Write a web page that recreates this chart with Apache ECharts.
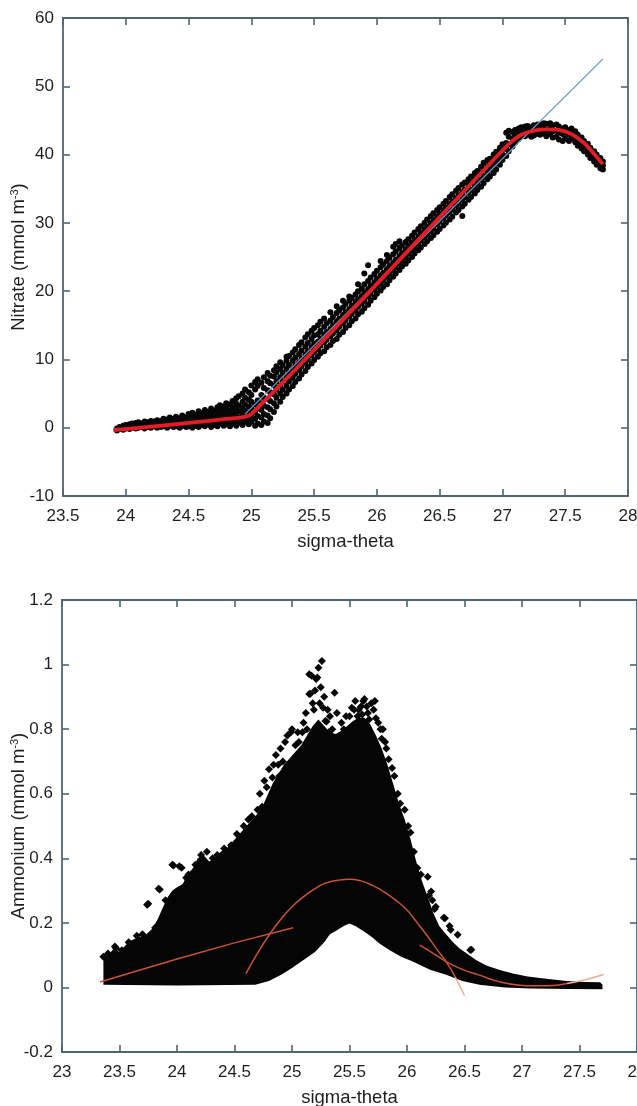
<!DOCTYPE html>
<html>
<head>
<meta charset="utf-8">
<script src="https://cdn.jsdelivr.net/npm/echarts@6/dist/echarts.min.js"></script>
<style>
  html, body { margin: 0; padding: 0; background: #ffffff; overflow: hidden; }
  #chart { width: 637px; height: 1106px; }
</style>
</head>
<body>
<div id="chart"></div>
<script>
// ---------- Nitrate vs sigma-theta (upper panel) ----------
// each row: [sigma-theta, nitrate observations at that density ...]
const nitrateRows = [
  [23.93, -0.4, -0.1], [23.95, -0.2, 0.1], [23.98, -0.3, 0.0, 0.3], [24.00, -0.1, 0.2, 0.4],
  [24.03, -0.2, 0.1, 0.5], [24.05, 0.0, 0.3, 0.6], [24.08, -0.1, 0.2, 0.7], [24.10, 0.0, 0.4, 0.8],
  [24.13, 0.1, 0.3, 0.6], [24.15, -0.1, 0.5, 0.9], [24.18, 0.1, 0.4, 0.8], [24.20, 0.0, 0.3, 0.7, 1.0],
  [24.23, 0.2, 0.5, 0.9], [24.25, 0.0, 0.4, 0.8, 1.1], [24.28, 0.1, 0.6, 1.0], [24.30, 0.2, 0.5, 0.9, 1.3],
  [24.33, 0.0, 0.4, 0.8, 1.2], [24.35, 0.3, 0.7, 1.1, 1.5], [24.38, 0.1, 0.5, 0.9, 1.3], [24.40, 0.2, 0.6, 1.0, 1.6],
  [24.43, 0.0, 0.4, 0.9, 1.4], [24.45, 0.3, 0.7, 1.2, 1.8], [24.48, 0.1, 0.6, 1.1, 1.5], [24.50, 0.2, 0.8, 1.3, 2.0],
  [24.53, 0.0, 0.5, 1.0, 1.6, 2.2], [24.55, 0.3, 0.8, 1.4, 1.9], [24.58, 0.1, 0.6, 1.2, 1.8, 2.4], [24.60, 0.4, 0.9, 1.5, 2.1],
  [24.63, 0.2, 0.7, 1.3, 1.9, 2.6], [24.65, 0.5, 1.0, 1.6, 2.3], [24.68, 0.1, 0.8, 1.4, 2.0, 2.8], [24.70, 0.4, 1.1, 1.7, 2.5],
  [24.73, 0.2, 0.9, 1.5, 2.2, 3.0], [24.75, 0.6, 1.2, 1.9, 2.7, 3.3], [24.78, 0.3, 1.0, 1.6, 2.4, 3.1], [24.80, 0.5, 1.3, 2.0, 2.8, 3.6],
  [24.83, 0.2, 0.9, 1.7, 2.5, 3.4], [24.85, 0.6, 1.4, 2.2, 3.0, 3.9], [24.88, 0.3, 1.1, 1.9, 2.7, 3.5, 4.3], [24.90, 0.7, 1.5, 2.4, 3.2, 4.6],
  [24.93, 0.4, 1.2, 2.0, 2.9, 3.8, 5.0], [24.95, 0.8, 1.6, 2.5, 3.4, 4.4, 5.6], [24.98, 0.5, 1.3, 2.2, 3.1, 4.1, 5.2], [25.00, 0.9, 1.8, 2.8, 3.8, 4.8, 6.2],
  [25.03, 0.3, 1.3, 2.3, 3.4, 5.6, 6.7], [25.05, 0.6, 1.7, 2.8, 4.0, 6.1, 7.1], [25.08, 0.4, 1.5, 2.6, 3.6, 4.8, 6.6], [25.10, 0.9, 2.0, 3.2, 4.4, 5.8, 7.4],
  [25.13, 0.7, 1.8, 3.0, 4.2, 5.5, 6.8, 8.0], [25.15, 1.4, 2.7, 3.9, 5.2, 6.5, 7.6], [25.18, 2.3, 3.6, 4.9, 6.2, 7.5, 8.4], [25.20, 3.1, 4.4, 5.6, 6.8, 8.1, 9.0],
  [25.23, 3.8, 5.0, 6.2, 7.4, 8.6, 9.6], [25.25, 4.5, 5.6, 6.8, 8.0, 9.2], [25.28, 5.0, 6.2, 7.4, 8.6, 9.8, 10.4], [25.30, 5.6, 6.8, 8.0, 9.2, 10.5],
  [25.33, 6.1, 7.3, 8.5, 9.8, 11.0], [25.35, 6.7, 7.9, 9.1, 10.3, 11.5], [25.38, 7.2, 8.4, 9.6, 10.8, 12.1], [25.40, 7.8, 9.0, 10.1, 11.3, 12.5],
  [25.43, 8.3, 9.5, 10.7, 11.9, 13.2], [25.45, 8.9, 10.0, 11.2, 12.4, 13.7], [25.48, 9.4, 10.6, 11.8, 13.0, 14.2], [25.50, 9.9, 11.1, 12.3, 13.5, 14.6],
  [25.53, 10.4, 11.5, 12.6, 13.7, 15.0], [25.55, 10.9, 12.0, 13.0, 14.2, 15.5], [25.58, 11.2, 12.5, 13.6, 14.8, 16.0], [25.60, 11.8, 12.9, 14.0, 15.3],
  [25.63, 12.1, 13.4, 14.5, 15.7, 16.9], [25.65, 12.7, 13.8, 15.0, 16.2], [25.68, 13.0, 14.3, 15.5, 16.8, 17.8], [25.70, 13.6, 14.8, 16.0, 17.2],
  [25.73, 14.0, 15.3, 16.5, 17.6, 18.6], [25.75, 14.6, 15.7, 16.9, 18.1], [25.78, 15.0, 16.3, 17.4, 18.6, 19.2], [25.80, 15.6, 16.7, 17.9, 19.0],
  [25.83, 16.0, 17.2, 18.4, 19.5], [25.85, 16.6, 17.7, 18.8, 20.0, 21.0], [25.88, 17.0, 18.2, 19.3, 20.4], [25.90, 17.5, 18.6, 19.8, 21.0, 22.6],
  [25.93, 18.0, 19.2, 20.3, 21.5, 23.8], [25.95, 18.6, 19.6, 20.8, 22.0], [25.98, 19.1, 20.2, 21.3, 22.5], [26.00, 19.6, 20.6, 21.8, 23.0],
  [26.03, 20.1, 21.1, 22.3, 23.5, 24.4], [26.05, 20.6, 21.6, 22.7, 23.9], [26.08, 21.0, 22.1, 23.2, 24.4, 25.3], [26.10, 21.6, 22.6, 23.7, 24.9],
  [26.13, 22.1, 23.1, 24.2, 25.4, 26.5], [26.15, 22.6, 23.5, 24.6, 25.8, 26.9], [26.18, 23.1, 24.1, 25.1, 26.3, 27.3], [26.20, 23.6, 24.5, 25.6, 26.7],
  [26.23, 24.0, 25.0, 26.1, 27.2], [26.25, 24.5, 25.5, 26.6, 27.6], [26.28, 25.0, 26.0, 27.1, 28.1], [26.30, 25.5, 26.4, 27.5, 28.6],
  [26.33, 26.0, 26.9, 28.0, 29.1], [26.35, 26.4, 27.4, 28.5, 29.5], [26.38, 26.9, 27.9, 29.0, 30.0], [26.40, 27.3, 28.3, 29.4, 30.5],
  [26.43, 27.8, 28.8, 29.9, 31.0], [26.45, 28.2, 29.2, 30.4, 31.4], [26.48, 28.7, 29.8, 30.9, 31.9], [26.50, 29.1, 30.2, 31.3, 32.3],
  [26.53, 29.6, 30.7, 31.8, 32.8], [26.55, 30.0, 31.1, 32.2, 33.2], [26.58, 30.5, 31.6, 32.7, 33.8], [26.60, 30.9, 32.0, 33.1, 34.2],
  [26.63, 31.5, 32.5, 33.6, 34.7], [26.65, 31.9, 32.9, 34.0, 35.1], [26.68, 31.0, 32.4, 33.4, 34.5, 35.6], [26.70, 32.8, 33.8, 34.9, 35.9],
  [26.73, 33.4, 34.4, 35.5, 36.4], [26.75, 33.8, 34.8, 35.9, 36.8], [26.78, 34.3, 35.3, 36.4, 37.3], [26.80, 34.8, 35.8, 36.8, 37.6],
  [26.83, 35.3, 36.3, 37.3, 38.2], [26.85, 35.8, 36.8, 37.8, 38.8], [26.88, 36.4, 37.3, 38.3, 39.2], [26.90, 36.8, 37.8, 38.7, 39.4],
  [26.93, 37.3, 38.3, 39.2, 40.0], [26.95, 37.8, 38.8, 39.6, 40.4], [26.98, 38.5, 39.4, 40.2, 41.0], [27.00, 39.2, 40.0, 40.8, 41.5],
  [27.03, 39.8, 40.8, 41.7, 43.2], [27.05, 40.5, 41.5, 42.6, 43.5], [27.08, 41.2, 42.3, 43.3], [27.10, 41.8, 42.8, 43.6],
  [27.13, 42.3, 43.2, 43.8], [27.15, 42.6, 43.4, 44.0], [27.18, 42.7, 43.5, 44.1], [27.20, 42.9, 43.6, 44.2],
  [27.23, 42.6, 43.3, 44.0], [27.25, 42.8, 43.6, 44.3], [27.28, 43.0, 43.8, 44.4], [27.30, 42.9, 43.7, 44.4],
  [27.33, 43.1, 43.9, 44.6], [27.35, 42.7, 43.6, 44.5], [27.38, 43.0, 43.8, 44.6], [27.40, 42.5, 43.4, 44.3],
  [27.43, 42.6, 43.5, 44.4], [27.45, 42.2, 43.2, 44.1], [27.48, 42.0, 43.0, 43.8], [27.50, 42.4, 43.3, 44.0],
  [27.53, 42.0, 42.9, 43.6], [27.55, 42.3, 43.1, 43.8], [27.58, 41.8, 42.6, 43.4], [27.60, 41.3, 42.1, 42.9],
  [27.63, 40.9, 41.7, 42.5], [27.65, 40.5, 41.3, 42.0], [27.68, 40.0, 40.8, 41.6], [27.70, 39.5, 40.3, 41.0],
  [27.73, 39.0, 39.8, 40.5], [27.75, 38.5, 39.3, 40.0], [27.78, 38.0, 38.8, 39.5], [27.80, 37.8, 38.4, 39.0]
];
// linear regression line through the nitracline
const nitrateFitLinear = [[24.95, 2.0], [27.80, 54.0]];
// piecewise fit used by the model
const nitrateFitPiecewise = [
  [23.90, -0.35], [24.20, 0.15], [24.50, 0.70], [24.80, 1.30], [25.00, 2.00],
  [27.00, 40.6], [27.08, 42.0], [27.15, 42.9], [27.25, 43.5], [27.35, 43.7],
  [27.45, 43.6], [27.55, 43.0], [27.65, 41.7], [27.72, 40.3], [27.80, 38.6]
];

// ---------- Ammonium vs sigma-theta (lower panel) ----------
// outline of the densely packed observations (upper edge, left to right)
const ammoniumUpper = [
  [23.36, 0.010], [23.36, 0.090], [23.40, 0.100], [23.45, 0.120], [23.50, 0.110], [23.55, 0.130],
  [23.60, 0.145], [23.66, 0.155], [23.72, 0.160], [23.78, 0.180], [23.83, 0.210], [23.88, 0.250],
  [23.92, 0.280], [23.96, 0.300], [24.00, 0.310], [24.05, 0.320], [24.09, 0.350], [24.14, 0.370],
  [24.18, 0.400], [24.23, 0.410], [24.28, 0.390], [24.33, 0.400], [24.38, 0.420], [24.43, 0.430],
  [24.48, 0.450], [24.53, 0.470], [24.58, 0.490], [24.63, 0.510], [24.68, 0.530], [24.73, 0.550],
  [24.78, 0.590], [24.83, 0.630], [24.88, 0.660], [24.93, 0.690], [24.98, 0.710], [25.03, 0.730],
  [25.08, 0.750], [25.13, 0.780], [25.18, 0.810], [25.23, 0.830], [25.28, 0.810], [25.33, 0.790],
  [25.38, 0.785], [25.43, 0.795], [25.48, 0.810], [25.53, 0.825], [25.58, 0.835], [25.63, 0.835],
  [25.68, 0.815], [25.73, 0.780], [25.78, 0.740], [25.83, 0.690], [25.88, 0.630], [25.93, 0.570],
  [25.98, 0.520], [26.03, 0.460], [26.08, 0.390], [26.13, 0.330], [26.18, 0.280], [26.23, 0.230],
  [26.28, 0.190], [26.34, 0.165], [26.40, 0.140], [26.46, 0.120], [26.52, 0.105], [26.60, 0.085],
  [26.69, 0.068], [26.80, 0.055], [26.92, 0.043], [27.05, 0.034], [27.21, 0.027], [27.39, 0.020],
  [27.55, 0.017], [27.68, 0.016], [27.70, 0.008]
];
// lower edge of the same cloud, left to right
const ammoniumLower = [
  [23.36, 0.008], [24.00, 0.006], [24.68, 0.008], [24.80, 0.020], [24.91, 0.040], [25.00, 0.060],
  [25.10, 0.085], [25.20, 0.110], [25.28, 0.140], [25.33, 0.165], [25.38, 0.175], [25.45, 0.190],
  [25.50, 0.198], [25.55, 0.190], [25.62, 0.175], [25.70, 0.155], [25.76, 0.136], [25.85, 0.115],
  [25.95, 0.095], [26.05, 0.080], [26.20, 0.055], [26.34, 0.039], [26.48, 0.020], [26.63, 0.008],
  [26.85, 0.000], [27.07, -0.003], [27.40, -0.005], [27.70, -0.006]
];
// sparse observations along the ragged top of the cloud
const ammoniumDots = [
  [23.36, 0.095], [23.40, 0.105], [23.46, 0.127], [23.47, 0.121], [23.52, 0.115], [23.58, 0.140],
  [23.65, 0.160], [23.70, 0.165], [23.74, 0.256], [23.75, 0.259], [23.81, 0.185], [23.84, 0.306],
  [23.85, 0.303], [23.90, 0.270], [23.96, 0.380], [23.97, 0.378], [24.02, 0.375], [24.04, 0.371],
  [24.08, 0.340], [24.10, 0.350], [24.16, 0.380], [24.21, 0.410], [24.26, 0.420], [24.31, 0.400],
  [24.35, 0.410], [24.41, 0.430], [24.47, 0.440], [24.52, 0.475], [24.58, 0.500], [24.62, 0.520],
  [24.65, 0.530], [24.70, 0.550], [24.72, 0.600], [24.74, 0.560], [24.76, 0.640], [24.78, 0.620],
  [24.80, 0.676], [24.83, 0.650], [24.84, 0.690], [24.86, 0.720], [24.88, 0.690], [24.89, 0.655],
  [24.90, 0.740], [24.92, 0.700], [24.94, 0.760], [24.96, 0.780], [24.99, 0.790], [25.00, 0.800],
  [25.03, 0.750], [25.05, 0.790], [25.06, 0.760], [25.09, 0.790], [25.10, 0.820], [25.12, 0.850],
  [25.13, 0.800], [25.15, 0.970], [25.15, 0.909], [25.16, 0.910], [25.17, 0.965], [25.18, 0.880],
  [25.19, 0.860], [25.20, 0.920], [25.21, 0.955], [25.22, 0.960], [25.23, 0.990], [25.24, 0.880],
  [25.25, 0.930], [25.26, 1.011], [25.27, 0.866], [25.28, 0.900], [25.29, 0.825], [25.30, 0.824],
  [25.31, 0.860], [25.32, 0.790], [25.33, 0.840], [25.35, 0.800], [25.37, 0.913], [25.39, 0.850],
  [25.41, 0.740], [25.43, 0.820], [25.45, 0.800], [25.47, 0.840], [25.50, 0.840], [25.52, 0.866],
  [25.54, 0.860], [25.55, 0.887], [25.57, 0.840], [25.58, 0.860], [25.60, 0.870], [25.61, 0.845],
  [25.62, 0.887], [25.63, 0.893], [25.65, 0.870], [25.66, 0.850], [25.67, 0.830], [25.69, 0.880],
  [25.71, 0.860], [25.72, 0.887], [25.73, 0.834], [25.75, 0.820], [25.77, 0.800], [25.78, 0.770],
  [25.79, 0.800], [25.81, 0.760], [25.82, 0.740], [25.84, 0.707], [25.87, 0.680], [25.89, 0.655],
  [25.92, 0.600], [25.94, 0.570], [25.98, 0.550], [26.01, 0.500], [26.03, 0.480], [26.06, 0.420],
  [26.09, 0.370], [26.12, 0.350], [26.18, 0.343], [26.19, 0.285], [26.21, 0.297], [26.22, 0.270],
  [26.24, 0.243], [26.25, 0.250], [26.32, 0.216], [26.33, 0.214], [26.37, 0.190], [26.38, 0.179],
  [26.44, 0.163], [26.55, 0.116], [26.56, 0.117]
];
// fitted curves
const ammoniumFitShallow = [[23.33, 0.017], [24.00, 0.088], [24.50, 0.138], [25.01, 0.185]];
const ammoniumFitPeak = [
  [24.60, 0.043], [24.70, 0.106], [24.81, 0.167], [24.91, 0.214], [25.00, 0.250], [25.09, 0.278],
  [25.20, 0.306], [25.29, 0.323], [25.40, 0.332], [25.50, 0.335], [25.60, 0.330], [25.70, 0.316],
  [25.80, 0.296], [25.91, 0.268], [26.00, 0.240], [26.05, 0.218], [26.10, 0.195], [26.19, 0.153],
  [26.26, 0.118], [26.34, 0.080], [26.42, 0.032], [26.50, -0.025]
];
const ammoniumFitDeep = [
  [26.11, 0.131], [26.20, 0.112], [26.34, 0.080], [26.48, 0.056], [26.63, 0.038], [26.80, 0.018],
  [26.98, 0.007], [27.10, 0.005], [27.22, 0.005], [27.39, 0.012], [27.55, 0.024], [27.71, 0.040]
];
// beyond these densities the fitted curves run over empty paper
const peakFitPaleFrom = 26.42;
const deepFitPaleFrom = 27.39;

// ---------- axis ranges ----------
const nitrateX = { min: 23.5, max: 28, step: 0.5 };
const nitrateY = { min: -10, max: 60, step: 10 };
const ammoniumX = { min: 23, max: 28, step: 0.5 };
const ammoniumY = { min: -0.2, max: 1.2, step: 0.2 };

const nitratePoints = [];
nitrateRows.forEach(function (row) {
  for (let i = 1; i < row.length; i++) nitratePoints.push([row[0], row[i]]);
});

const FONT = 'Liberation Sans, Arial, Helvetica, sans-serif';
const AXIS_COLOR = '#4e6672';
const TEXT_COLOR = '#1e1e1e';
const FIT_DARK = '#c85434';
const FIT_PALE = '#efab90';

function boxAxis(gridIndex, range, position, withLabels, extra) {
  const horizontal = position === 'top' || position === 'bottom';
  return Object.assign({
    type: 'value', gridIndex: gridIndex, position: position,
    min: range.min, max: range.max, interval: range.step,
    nameMoveOverlap: false,
    axisLine: { show: true, onZero: false, lineStyle: { color: AXIS_COLOR, width: 1.8 } },
    axisTick: { show: true, inside: true, length: 7, lineStyle: { color: AXIS_COLOR, width: 1.6 } },
    axisLabel: {
      show: withLabels, color: TEXT_COLOR, fontSize: 17, fontFamily: FONT,
      margin: horizontal ? 12 : 9
    },
    splitLine: { show: false }
  }, extra || {});
}

function yTitle(main, gap) {
  return {
    name: '{t|' + main + ' (mmol m}{s|-3}{t|)}',
    nameLocation: 'middle', nameGap: gap, nameRotate: 90,
    nameTextStyle: {
      rich: {
        t: { fontSize: 18.5, fontFamily: FONT, color: TEXT_COLOR, lineHeight: 20 },
        s: { fontSize: 11, fontFamily: FONT, color: TEXT_COLOR, lineHeight: 20, verticalAlign: 'top', padding: [0, 0, 9, 0] }
      }
    }
  };
}
function xTitle(gap) {
  return {
    name: 'sigma-theta', nameLocation: 'middle', nameGap: gap,
    nameTextStyle: { fontSize: 18.5, fontFamily: FONT, color: TEXT_COLOR }
  };
}

function fitLine(data, color, smooth) {
  return {
    type: 'line', xAxisIndex: 2, yAxisIndex: 2, data: data,
    showSymbol: false, smooth: smooth, lineStyle: { color: color, width: 1.5 }, silent: true, z: 4
  };
}

const chart = echarts.init(document.getElementById('chart'), null, { renderer: 'canvas' });

chart.setOption({
  backgroundColor: '#ffffff',
  animation: false,
  grid: [
    { left: 63, top: 18, width: 565, height: 478, containLabel: false, outerBoundsMode: 'none' },
    { left: 62, top: 600, width: 575, height: 452, containLabel: false, outerBoundsMode: 'none' }
  ],
  xAxis: [
    boxAxis(0, nitrateX, 'bottom', true, xTitle(36)),
    boxAxis(0, nitrateX, 'top', false),
    boxAxis(1, ammoniumX, 'bottom', true, xTitle(36)),
    boxAxis(1, ammoniumX, 'top', false)
  ],
  yAxis: [
    boxAxis(0, nitrateY, 'left', true, yTitle('Nitrate', 34)),
    boxAxis(0, nitrateY, 'right', false),
    boxAxis(1, ammoniumY, 'left', true, yTitle('Ammonium', 33)),
    boxAxis(1, ammoniumY, 'right', false)
  ],
  series: [
    {
      type: 'scatter', xAxisIndex: 0, yAxisIndex: 0, data: nitratePoints,
      symbol: 'circle', symbolSize: 6, itemStyle: { color: '#060606', opacity: 1 }, silent: true, z: 2
    },
    {
      type: 'line', xAxisIndex: 0, yAxisIndex: 0, data: nitrateFitLinear,
      showSymbol: false, lineStyle: { color: '#6f9fcc', width: 1.2 }, silent: true, z: 3
    },
    {
      type: 'line', xAxisIndex: 0, yAxisIndex: 0, data: nitrateFitPiecewise,
      showSymbol: false, smooth: 0.25, lineStyle: { color: '#e41d25', width: 3.8 }, silent: true, z: 4
    },
    {
      type: 'custom', xAxisIndex: 2, yAxisIndex: 2, coordinateSystem: 'cartesian2d',
      data: [ammoniumUpper[0]], silent: true, z: 2,
      renderItem: function (params, api) {
        const pts = ammoniumUpper.map(function (p) { return api.coord(p); })
          .concat(ammoniumLower.slice().reverse().map(function (p) { return api.coord(p); }));
        return { type: 'polygon', shape: { points: pts }, style: { fill: '#050505' } };
      }
    },
    {
      type: 'scatter', xAxisIndex: 2, yAxisIndex: 2, data: ammoniumDots,
      symbol: 'diamond', symbolSize: 8, itemStyle: { color: '#050505', opacity: 1 }, silent: true, z: 2
    },
    fitLine(ammoniumFitShallow, FIT_DARK, false),
    fitLine(ammoniumFitPeak.filter(function (p) { return p[0] <= peakFitPaleFrom; }), FIT_DARK, true),
    fitLine(ammoniumFitPeak.filter(function (p) { return p[0] >= peakFitPaleFrom; }), FIT_PALE, false),
    fitLine(ammoniumFitDeep.filter(function (p) { return p[0] <= deepFitPaleFrom; }), FIT_DARK, true),
    fitLine(ammoniumFitDeep.filter(function (p) { return p[0] >= deepFitPaleFrom; }), FIT_PALE, true)
  ]
});
</script>
</body>
</html>
